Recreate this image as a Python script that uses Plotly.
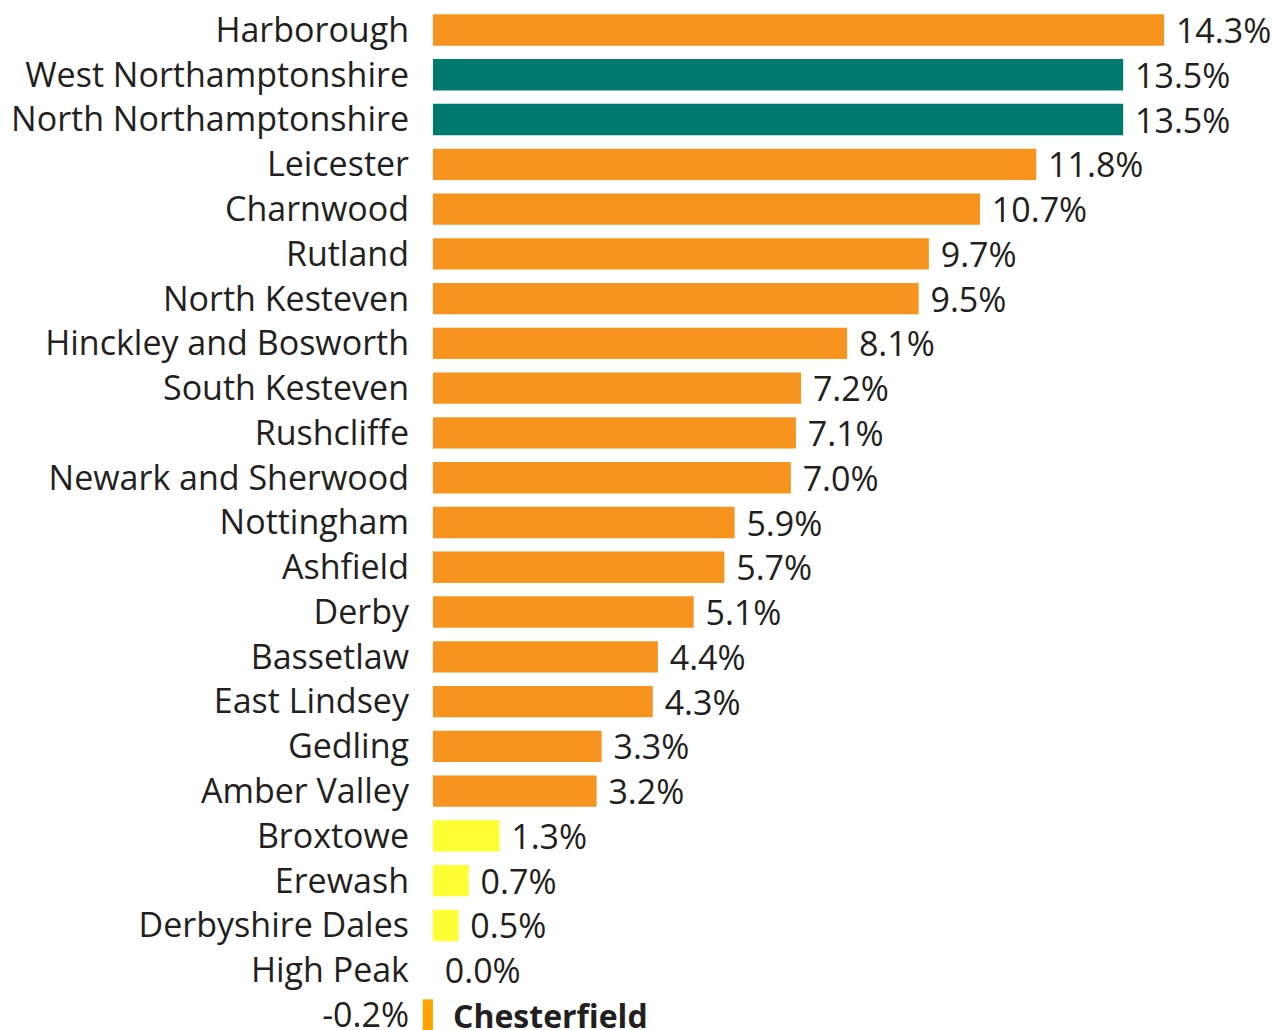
import plotly.graph_objects as go

categories = ["Harborough", "West Northamptonshire", "North Northamptonshire", "Leicester",
              "Charnwood", "Rutland", "North Kesteven", "Hinckley and Bosworth",
              "South Kesteven", "Rushcliffe", "Newark and Sherwood", "Nottingham",
              "Ashfield", "Derby", "Bassetlaw", "East Lindsey", "Gedling", "Amber Valley",
              "Broxtowe", "Erewash", "Derbyshire Dales", "High Peak", "Chesterfield"]
values = [14.3, 13.5, 13.5, 11.8, 10.7, 9.7, 9.5, 8.1, 7.2, 7.1, 7.0, 5.9, 5.7, 5.1,
          4.4, 4.3, 3.3, 3.2, 1.3, 0.7, 0.5, 0.0, -0.2]
highlight = ["West Northamptonshire", "North Northamptonshire"]

ORANGE = "#F7941D"
TEAL = "#007A6E"
YELLOW = "#FFFF33"
NEG = "#FFA300"
TEXT = "#231F20"
FONT = "Open Sans"
FS = 34

colors = []
for c, v in zip(categories, values):
    if c in highlight:
        colors.append(TEAL)
    elif v < 0:
        colors.append(NEG)
    elif v < 2:
        colors.append(YELLOW)
    else:
        colors.append(ORANGE)

labels = [f"{v:.1f}%" for v in values]
bar_text = [(" " + t) if v >= 0 else "" for t, v in zip(labels, values)]
tick_text = [c if v >= 0 else t for c, v, t in zip(categories, values, labels)]

fig = go.Figure(go.Bar(
    x=values, y=categories, orientation="h",
    marker=dict(color=colors, line=dict(width=0)),
    width=0.7,
    text=bar_text, textposition="outside", cliponaxis=False,
    constraintext="none",
    textfont=dict(family=FONT, size=FS, color=TEXT),
    hoverinfo="skip",
))

for c, v in zip(categories, values):
    if v < 0:
        fig.add_annotation(x=0, y=c, text=f"<b>{c}</b>", showarrow=False,
                           xanchor="left", xshift=18,
                           font=dict(family=FONT, size=32, color=TEXT))

n = len(categories)
fig.update_layout(
    width=1274, height=1030,
    margin=dict(l=420, r=0, t=0, b=0, autoexpand=False),
    plot_bgcolor="white", paper_bgcolor="white",
    showlegend=False,
    xaxis=dict(range=[-0.253, 16.45], visible=False, showgrid=False, zeroline=False,
               automargin=False),
    yaxis=dict(type="category", categoryorder="array", categoryarray=categories,
               range=[n - 1 + 0.335, -0.67], automargin=False,
               tickmode="array", tickvals=categories, ticktext=tick_text,
               ticks="", showgrid=False, zeroline=False, showline=False,
               ticklabelstandoff=10,
               tickfont=dict(family=FONT, size=FS, color=TEXT)),
)

fig.write_html("out.html", config={"displayModeBar": False},
               post_script="document.body.style.margin='0';document.body.style.overflow='hidden';")
